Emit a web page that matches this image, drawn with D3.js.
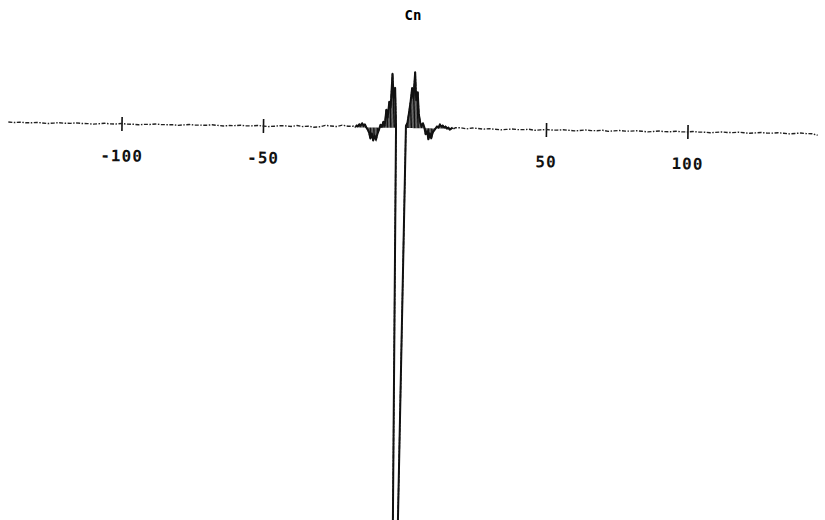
<html>

<head>
  <meta charset="utf-8">
  <title>Cn</title>
  <script src="https://d3js.org/d3.v7.min.js"></script>
  <style>
    body {
      margin: 0;
      background: white;
    }

    svg#root {
      display: block;
    }

    .tick text {
      font-family: "DejaVu Sans Mono", monospace;
      font-weight: bold;
      font-size: 16px;
      letter-spacing: 1px;
    }
  </style>
</head>

<body>
  <svg id="root"></svg>
  <script>
    // left tail, n = -140 .. -20 step 2
    var leftN = d3.range(-140, -19, 2);
    var leftCn = [0.005, 0, 0.005, 0, 0, 0.005, 0, -0.005, 0, 0.005, 0, 0, 0.005, 0, 0, -0.005, 0, 0.005, 0, 0,
      0.005, 0, 0, -0.005, 0, 0, 0.005, 0, 0, 0, -0.005, 0, 0.005, 0, 0, 0, 0.005, 0, -0.005, 0,
      0, 0.005, 0, 0, 0.005, 0, -0.005, 0, 0.005, 0.005, 0, 0.01, 0, 0.005, -0.005, 0, 0.015, 0.01, 0.005, 0.02, 0.01];

    // central part, read at half steps
    var centerN = [-18, -17.5, -17, -16.5, -16, -15.5, -15, -14.5, -14, -13.5, -13, -12.5, -12, -11.5, -11,
      -10.5, -10, -9.5, -9, -8.5, -8, -7.5, -7, -6.5, -6, -5.5, -5, -4.5, -4, -3.5, -3, -1.3,
      0.5, 1, 1.5, 2, 2.5, 3, 3.5, 4, 4.5, 5, 5.5, 6, 6.5, 7, 7.5, 8, 8.5, 9, 9.5, 10,
      10.5, 11, 11.5, 12, 12.5, 13, 13.5, 14, 14.5, 15, 15.5, 16, 16.5, 17, 17.5, 18];
    var centerCn = [0.01, 0, 0.02, 0.01, 0.03, 0.02, 0.04, 0.02, 0.03, 0, -0.02, -0.05, -0.11, -0.06, -0.13,
      -0.08, -0.12, -0.06, -0.02, 0.03, 0.01, 0.06, 0.02, 0.18, 0.1, 0.26, 0.2, 0.54, 0.3, 0.4, 0.02, -8.0,
      0.02, 0.05, 0.15, 0.26, 0.40, 0.3, 0.56, 0.28, 0.36, 0.14, 0.06, 0.02, 0.05, 0.01, -0.06, -0.03, -0.11, -0.05, -0.10, -0.04,
      -0.02, 0, 0.02, 0.01, 0.04, 0.02, 0.03, 0.01, 0.02, 0, 0.01, -0.01, 0, 0.01, 0, 0.01];

    // right tail, n = 20 .. 146 step 2
    var rightN = d3.range(20, 147, 2);
    var rightCn = [0.01, 0, 0.01, 0.005, 0, 0.005, 0, -0.005, 0, 0.005,
      0, 0, 0.005, -0.005, 0, 0.005, 0, 0, 0.005, 0,
      -0.005, 0, 0.005, 0, 0, 0.005, -0.005, 0, 0.005, 0,
      0, 0.005, 0, -0.005, 0, 0.005, 0, 0, 0.005, 0,
      0, 0.005, 0, 0, -0.005, 0, 0.005, 0, 0, 0.005,
      0, -0.005, 0, 0.005, 0, 0, 0.005, 0, -0.005, 0,
      0.005, 0, 0, -0.015];

    var tickValues = [-100, -50, 50, 100];
    var title = 'Cn';

    var width = 825;
    var height = 520;

    var data = [];
    [[leftN, leftCn], [centerN, centerCn], [rightN, rightCn]].forEach(function (part) {
      part[0].forEach(function (n, i) {
        data.push({ n: n, cn: part[1][i] });
      });
    });

    var svg = d3.select('svg#root')
      .attr('width', width)
      .attr('height', height);

    var scaleX = d3.scaleLinear().domain([-140, 147]).range([8.3, 820.5]);
    var scaleY = d3.scaleLinear().domain([-3.92, 1.28]).range([height, 0]);

    // the scanned plot is tilted a little
    var g = svg.append('g')
      .attr('transform', 'rotate(0.8,' + scaleX(0) + ',' + scaleY(0) + ')');

    var axis = g.append('g')
      .attr('transform', 'translate(0,' + scaleY(0) + ')')
      .call(d3.axisBottom(scaleX).tickValues(tickValues).tickSize(7).tickFormat(function (d) {
        return String(d);
      }));
    axis.select('.domain').remove();
    axis.selectAll('.tick line')
      .attr('y1', -7)
      .attr('y2', 7)
      .attr('stroke', '#111')
      .attr('stroke-width', 1.6);
    axis.selectAll('.tick text')
      .attr('y', 26)
      .attr('fill', '#111');

    var line = d3.line()
      .x(function (d) {
        return scaleX(d.n);
      })
      .y(function (d) {
        return scaleY(d.cn);
      });

    // whole curve, thin and broken like the scan
    g.append('path')
      .datum(data)
      .attr('fill', 'none')
      .attr('stroke', '#222')
      .attr('stroke-width', 1.4)
      .attr('stroke-dasharray', '4,1.5,1.5,1.5')
      .attr('d', line);

    var middle = data.filter(function (d) {
      return Math.abs(d.n) <= 17;
    });

    // stems in the middle make the peaks look filled
    g.selectAll('.stem')
      .data(middle.filter(function (d) {
        return d.cn > -1;
      }))
      .enter()
      .append('line')
      .attr('class', 'stem')
      .attr('x1', function (d) {
        return scaleX(d.n);
      })
      .attr('x2', function (d) {
        return scaleX(d.n);
      })
      .attr('y1', scaleY(0))
      .attr('y2', function (d) {
        return scaleY(d.cn);
      })
      .attr('stroke', '#111')
      .attr('stroke-width', 1.2);

    // the middle part is printed heavier
    g.append('path')
      .datum(middle)
      .attr('fill', 'none')
      .attr('stroke', '#111')
      .attr('stroke-width', 2)
      .attr('stroke-linejoin', 'round')
      .attr('d', line);

    svg.append('text')
      .attr('x', 413)
      .attr('y', 20)
      .attr('text-anchor', 'middle')
      .attr('font-family', '"DejaVu Sans Mono", monospace')
      .attr('font-weight', 'bold')
      .attr('font-size', 14)
      .text(title);
  </script>
</body>

</html>
